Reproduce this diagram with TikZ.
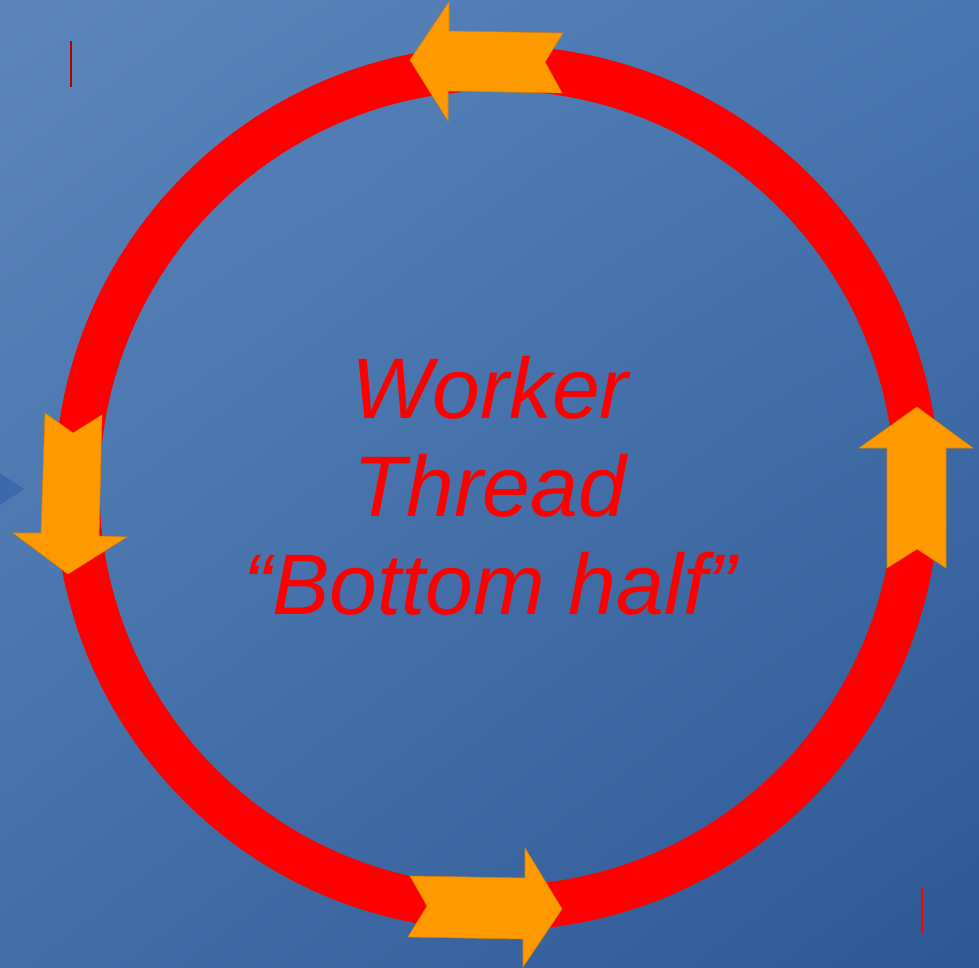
\documentclass[tikz,border=0pt]{standalone}
\usepackage{fontspec}
\setmainfont{Liberation Sans}
\usetikzlibrary{shadings}
\definecolor{bgtl}{RGB}{92,134,187}
\definecolor{bgtr}{RGB}{72,118,176}
\definecolor{bgbl}{RGB}{66,110,168}
\definecolor{bgbr}{RGB}{46,88,148}
\definecolor{ringred}{RGB}{255,0,0}
\definecolor{arroworange}{RGB}{255,153,0}
\definecolor{markblue}{RGB}{58,106,172}
\begin{document}
\begin{tikzpicture}[x=1pt,y=-1pt,line join=miter,
    ring/.style={draw=ringred,line width=45pt},
    bigarrow/.style={fill=arroworange,draw=arroworange!85!black,line width=.6pt},
    tick/.style={draw=#1,line width=1.5pt}]
  \useasboundingbox (0,0) rectangle (979,968);
  \shade[upper left=bgtl,upper right=bgtr,lower left=bgbl,lower right=bgbr]
    (0,0) rectangle (979,968);
  % small marks
  \draw[tick=ringred!70!black] (71,41)--(71,87);
  \draw[tick=ringred] (922,888)--(922,933);
  \fill[markblue] (0,473)--(24,489)--(0,505)--cycle;
  % ring
  \coordinate (c) at (497,488);
  \draw[ring] (c) circle (420);
  % arrows along the ring
  \draw[bigarrow] (410,60)--(449,2)--(449,31)--(563,33)--(545,62)--(562,93)--(448,91)--(448,121)--cycle;
  \draw[bigarrow] (917,407)--(973,448)--(946,448)--(946,568)--(917,549)--(887,568)--(887,448)--(859,448)--cycle;
  \draw[bigarrow] (68,574)--(13,533)--(41,533)--(45,413)--(73,433)--(102,415)--(99,536)--(127,537)--cycle;
  \draw[bigarrow] (562,909)--(525,848)--(525,878)--(410,876)--(427,906)--(408,937)--(523,939)--(523,967)--cycle;
  % label
  \node[text=ringred,font=\fontsize{86}{98}\selectfont\itshape,align=center] (lbl) at (490,486)
    {Worker\\Thread\\“Bottom half”};
\end{tikzpicture}
\end{document}
